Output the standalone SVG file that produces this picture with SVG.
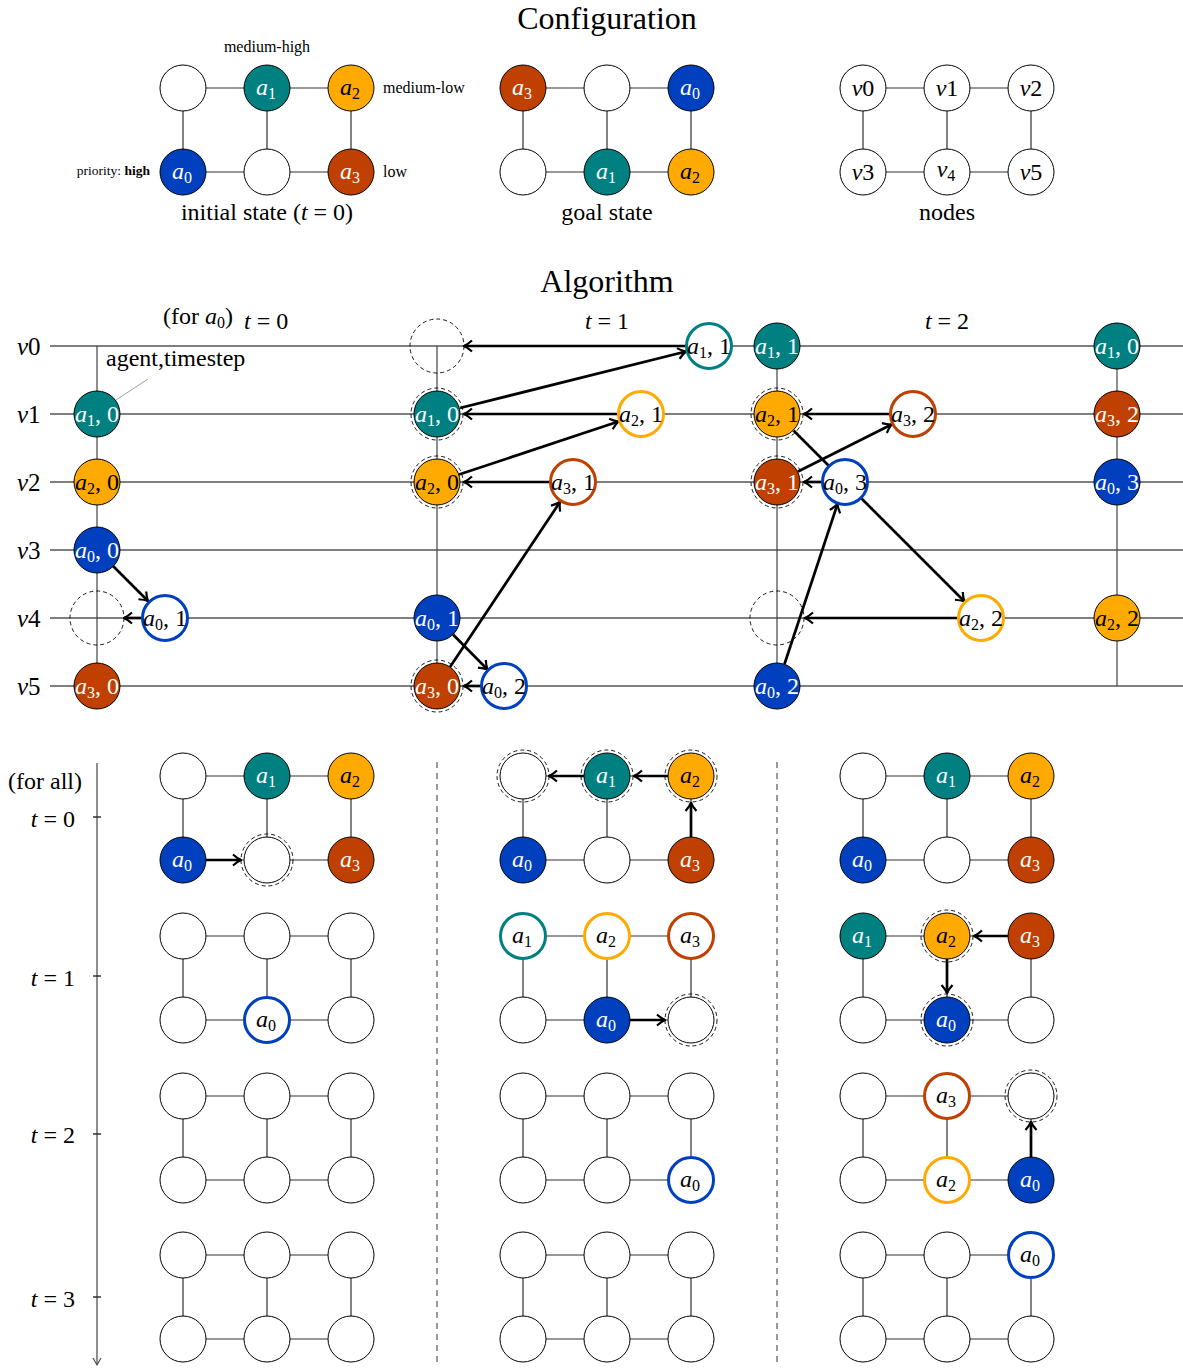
<svg xmlns="http://www.w3.org/2000/svg" width="1183" height="1368" viewBox="0 0 1183 1368">
<defs>
<style>
text{font-family:"Liberation Serif","DejaVu Serif",serif;fill:#000}
.ttl{font-size:32px;text-anchor:middle}
.cap{font-size:24px;text-anchor:middle}
.lb{font-size:24px}
.vv{font-size:25px}
.sm{font-size:16px}
.xs{font-size:13.5px}
.m{font-style:italic}
.s{font-size:16px;font-style:normal}
.u{font-style:normal}
.c{text-anchor:middle;font-size:24px;font-style:italic}
.w{fill:#fff}
.ed{stroke:#333;stroke-width:1.2;fill:none}
.hl{stroke:#000;stroke-width:1.2}
.vl{stroke:#444;stroke-width:1.2}
.n{fill:#fff;stroke:#000;stroke-width:1}
.T{fill:#008080;stroke:#000;stroke-width:1}
.O{fill:#FFAA00;stroke:#000;stroke-width:1}
.B{fill:#0040BF;stroke:#000;stroke-width:1}
.R{fill:#BF4000;stroke:#000;stroke-width:1}
.hT{fill:#fff;stroke:#008080;stroke-width:3}
.hO{fill:#fff;stroke:#FFAA00;stroke-width:3}
.hB{fill:#fff;stroke:#0040BF;stroke-width:3}
.hR{fill:#fff;stroke:#BF4000;stroke-width:3}
.rg{fill:none;stroke:#000;stroke-width:0.9;stroke-dasharray:4 3}
.ar{stroke:#000;stroke-width:2.7;fill:none;marker-end:url(#ah)}
.sep{stroke:#333;stroke-width:1;stroke-dasharray:6 5}
</style>
<marker id="ah" viewBox="0 0 12 14" refX="11" refY="7" markerWidth="12" markerHeight="14" markerUnits="userSpaceOnUse" orient="auto"><path d="M3,1.5 Q7.5,5.5 11,7 Q7.5,8.5 3,12.5" fill="none" stroke="#000" stroke-width="2.2"/></marker>
</defs>
<rect width="1183" height="1368" fill="#fff"/>

<!-- titles and labels -->
<g id="labels">
<text class="ttl" x="607" y="29">Configuration</text>
<text class="sm" x="267" y="52" text-anchor="middle">medium-high</text>
<text class="sm" x="383" y="93">medium-low</text>
<text class="sm" x="383" y="177">low</text>
<text class="xs" x="150" y="175" text-anchor="end">priority: <tspan font-weight="bold">high</tspan></text>
<text class="cap" x="267" y="220">initial state (<tspan class="m">t</tspan> = 0)</text>
<text class="cap" x="607" y="220">goal state</text>
<text class="cap" x="947" y="220">nodes</text>
<text class="ttl" x="607" y="292">Algorithm</text>
<text class="lb" x="163" y="324">(for <tspan class="m">a</tspan><tspan class="s" dy="4">0</tspan><tspan dy="-4">)</tspan></text>
<text class="lb" x="244" y="329"><tspan class="m">t</tspan> = 0</text>
<text class="cap" x="607" y="329"><tspan class="m">t</tspan> = 1</text>
<text class="cap" x="947" y="329"><tspan class="m">t</tspan> = 2</text>
<text class="lb" x="106" y="366">agent,timestep</text>
<line x1="148" y1="379" x2="116" y2="400" stroke="#888" stroke-width="0.8"/>
<text class="vv" x="17" y="355"><tspan class="m">v</tspan>0</text>
<text class="vv" x="17" y="423"><tspan class="m">v</tspan>1</text>
<text class="vv" x="17" y="491"><tspan class="m">v</tspan>2</text>
<text class="vv" x="17" y="559"><tspan class="m">v</tspan>3</text>
<text class="vv" x="17" y="627"><tspan class="m">v</tspan>4</text>
<text class="vv" x="17" y="695"><tspan class="m">v</tspan>5</text>
<text class="lb" x="8" y="789" font-size="23">(for all)</text>
<text class="lb" x="75" y="827" text-anchor="end"><tspan class="m">t</tspan> = 0</text>
<text class="lb" x="75" y="986" text-anchor="end"><tspan class="m">t</tspan> = 1</text>
<text class="lb" x="75" y="1143" text-anchor="end"><tspan class="m">t</tspan> = 2</text>
<text class="lb" x="75" y="1307" text-anchor="end"><tspan class="m">t</tspan> = 3</text>
</g>

<!-- background lines -->
<g id="lines">
<line class="hl" x1="50" y1="346" x2="1183" y2="346"/>
<line class="hl" x1="50" y1="414" x2="1183" y2="414"/>
<line class="hl" x1="50" y1="482" x2="1183" y2="482"/>
<line class="hl" x1="50" y1="550" x2="1183" y2="550"/>
<line class="hl" x1="50" y1="618" x2="1183" y2="618"/>
<line class="hl" x1="50" y1="686" x2="1183" y2="686"/>
<line class="vl" x1="97" y1="346" x2="97" y2="686"/>
<line class="vl" x1="437" y1="346" x2="437" y2="686"/>
<line class="vl" x1="777" y1="346" x2="777" y2="686"/>
<line class="vl" x1="1117" y1="346" x2="1117" y2="686"/>
<line class="vl" x1="97" y1="763" x2="97" y2="1364"/>
<path d="M93,1358 L97,1365 L101,1358" fill="none" stroke="#444" stroke-width="1.1"/>
<path d="M93,817H101M93,976H101M93,1134H101M93,1297H101" stroke="#333" stroke-width="1.4"/>
<line class="sep" x1="437" y1="762" x2="437" y2="1362"/>
<line class="sep" x1="777" y1="762" x2="777" y2="1362"/>
<circle class="rg" cx="97" cy="618" r="27"/>
<circle class="rg" cx="437" cy="346" r="27"/>
<circle class="rg" cx="777" cy="618" r="27"/>
</g>

<!-- connectors -->
<g id="connectors">
<path class="ed" d="M183,88H351M183,172H351M183,88V172M267,88V172M351,88V172"/>
<path class="ed" d="M523,88H691M523,172H691M523,88V172M607,88V172M691,88V172"/>
<path class="ed" d="M863,88H1031M863,172H1031M863,88V172M947,88V172M1031,88V172"/>
<path class="ed" d="M183,776H351M183,860H351M183,776V860M267,776V860M351,776V860"/>
<path class="ed" d="M183,936H351M183,1020H351M183,936V1020M267,936V1020M351,936V1020"/>
<path class="ed" d="M183,1096H351M183,1180H351M183,1096V1180M267,1096V1180M351,1096V1180"/>
<path class="ed" d="M183,1255H351M183,1339H351M183,1255V1339M267,1255V1339M351,1255V1339"/>
<path class="ed" d="M523,776H691M523,860H691M523,776V860M607,776V860M691,776V860"/>
<path class="ed" d="M523,936H691M523,1020H691M523,936V1020M607,936V1020M691,936V1020"/>
<path class="ed" d="M523,1096H691M523,1180H691M523,1096V1180M607,1096V1180M691,1096V1180"/>
<path class="ed" d="M523,1255H691M523,1339H691M523,1255V1339M607,1255V1339M691,1255V1339"/>
<path class="ed" d="M863,776H1031M863,860H1031M863,776V860M947,776V860M1031,776V860"/>
<path class="ed" d="M863,936H1031M863,1020H1031M863,936V1020M947,936V1020M1031,936V1020"/>
<path class="ed" d="M863,1096H1031M863,1180H1031M863,1096V1180M947,1096V1180M1031,1096V1180"/>
<path class="ed" d="M863,1255H1031M863,1339H1031M863,1255V1339M947,1255V1339M1031,1255V1339"/>
<!-- algorithm arrows -->
<line class="ar" x1="113" y1="566" x2="148" y2="601"/>
<line class="ar" x1="142" y1="618" x2="124" y2="618"/>
<line class="ar" x1="686" y1="346" x2="464" y2="346"/>
<line class="ar" x1="460" y1="408" x2="686" y2="351.5"/>
<line class="ar" x1="618" y1="414" x2="464" y2="414"/>
<line class="ar" x1="459" y1="474.5" x2="618.5" y2="421.5"/>
<line class="ar" x1="550" y1="482" x2="464" y2="482"/>
<line class="ar" x1="450" y1="667" x2="560" y2="502"/>
<line class="ar" x1="453" y1="634.5" x2="487.5" y2="669.5"/>
<line class="ar" x1="481" y1="686" x2="464" y2="686"/>
<line class="ar" x1="890" y1="414" x2="804" y2="414"/>
<line class="ar" x1="798" y1="471.5" x2="891.5" y2="424.5"/>
<line class="ar" x1="793.5" y1="430.5" x2="964.5" y2="601.5"/>
<line class="ar" x1="822" y1="482" x2="804" y2="482"/>
<line class="ar" x1="784.5" y1="664" x2="837.5" y2="504"/>
<line class="ar" x1="958" y1="618" x2="805" y2="618"/>
<!-- bottom arrows -->
<line class="ar" x1="206" y1="860" x2="241" y2="860"/>
<line class="ar" x1="584" y1="776" x2="549" y2="776"/>
<line class="ar" x1="668" y1="776" x2="634" y2="776"/>
<line class="ar" x1="691" y1="837" x2="691" y2="803"/>
<line class="ar" x1="630" y1="1020" x2="665" y2="1020"/>
<line class="ar" x1="1008" y1="936" x2="974" y2="936"/>
<line class="ar" x1="947" y1="959" x2="947" y2="993"/>
<line class="ar" x1="1031" y1="1157" x2="1031" y2="1122"/>
</g>

<!-- configuration: initial state -->
<g id="init">
<g id="i0"><circle class="n" cx="183" cy="88" r="23"/></g>
<g id="i1"><circle class="T" cx="267" cy="88" r="23"/><text class="c w" x="266" y="95">a<tspan class="s" dy="4">1</tspan></text></g>
<g id="i2"><circle class="O" cx="351" cy="88" r="23"/><text class="c" x="350" y="95">a<tspan class="s" dy="4">2</tspan></text></g>
<g id="i3"><circle class="B" cx="183" cy="172" r="23"/><text class="c w" x="182" y="179">a<tspan class="s" dy="4">0</tspan></text></g>
<g id="i4"><circle class="n" cx="267" cy="172" r="23"/></g>
<g id="i5"><circle class="R" cx="351" cy="172" r="23"/><text class="c w" x="350" y="179">a<tspan class="s" dy="4">3</tspan></text></g>
</g>
<g id="goal">
<g id="g0"><circle class="R" cx="523" cy="88" r="23"/><text class="c w" x="522" y="95">a<tspan class="s" dy="4">3</tspan></text></g>
<g id="g1"><circle class="n" cx="607" cy="88" r="23"/></g>
<g id="g2"><circle class="B" cx="691" cy="88" r="23"/><text class="c w" x="690" y="95">a<tspan class="s" dy="4">0</tspan></text></g>
<g id="g3"><circle class="n" cx="523" cy="172" r="23"/></g>
<g id="g4"><circle class="T" cx="607" cy="172" r="23"/><text class="c w" x="606" y="179">a<tspan class="s" dy="4">1</tspan></text></g>
<g id="g5"><circle class="O" cx="691" cy="172" r="23"/><text class="c" x="690" y="179">a<tspan class="s" dy="4">2</tspan></text></g>
</g>
<g id="nodes">
<g id="nv0"><circle class="n" cx="863" cy="88" r="23"/><text class="c" x="863" y="96">v<tspan class="u">0</tspan></text></g>
<g id="nv1"><circle class="n" cx="947" cy="88" r="23"/><text class="c" x="947" y="96">v<tspan class="u">1</tspan></text></g>
<g id="nv2"><circle class="n" cx="1031" cy="88" r="23"/><text class="c" x="1031" y="96">v<tspan class="u">2</tspan></text></g>
<g id="nv3"><circle class="n" cx="863" cy="172" r="23"/><text class="c" x="863" y="180">v<tspan class="u">3</tspan></text></g>
<g id="nv4"><circle class="n" cx="947" cy="172" r="23"/><text class="c" x="946" y="177">v<tspan class="s" dy="4">4</tspan></text></g>
<g id="nv5"><circle class="n" cx="1031" cy="172" r="23"/><text class="c" x="1031" y="180">v<tspan class="u">5</tspan></text></g>
</g>

<!-- algorithm nodes -->
<g id="alg">
<g id="c1a10"><circle class="T" cx="97" cy="414" r="23"/><text class="c w" x="97" y="422">a<tspan class="s" dy="4">1</tspan><tspan class="u" dy="-4">, 0</tspan></text></g>
<g id="c1a20"><circle class="O" cx="97" cy="482" r="23"/><text class="c" x="97" y="490">a<tspan class="s" dy="4">2</tspan><tspan class="u" dy="-4">, 0</tspan></text></g>
<g id="c1a00"><circle class="B" cx="97" cy="550" r="23"/><text class="c w" x="97" y="558">a<tspan class="s" dy="4">0</tspan><tspan class="u" dy="-4">, 0</tspan></text></g>
<g id="c1a30"><circle class="R" cx="97" cy="686" r="23"/><text class="c w" x="97" y="694">a<tspan class="s" dy="4">3</tspan><tspan class="u" dy="-4">, 0</tspan></text></g>
<g id="c1a01"><circle class="hB" cx="165" cy="618" r="22.5"/><text class="c" x="165" y="626">a<tspan class="s" dy="4">0</tspan><tspan class="u" dy="-4">, 1</tspan></text></g>

<g id="c2a10"><circle class="rg" cx="437" cy="414" r="26"/><circle class="T" cx="437" cy="414" r="23"/><text class="c w" x="437" y="422">a<tspan class="s" dy="4">1</tspan><tspan class="u" dy="-4">, 0</tspan></text></g>
<g id="c2a20"><circle class="rg" cx="437" cy="482" r="26"/><circle class="O" cx="437" cy="482" r="23"/><text class="c" x="437" y="490">a<tspan class="s" dy="4">2</tspan><tspan class="u" dy="-4">, 0</tspan></text></g>
<g id="c2a01"><circle class="B" cx="437" cy="618" r="23"/><text class="c w" x="437" y="626">a<tspan class="s" dy="4">0</tspan><tspan class="u" dy="-4">, 1</tspan></text></g>
<g id="c2a30"><circle class="rg" cx="437" cy="686" r="26"/><circle class="R" cx="437" cy="686" r="23"/><text class="c w" x="437" y="694">a<tspan class="s" dy="4">3</tspan><tspan class="u" dy="-4">, 0</tspan></text></g>
<g id="c2a11"><circle class="hT" cx="709" cy="346" r="22.5"/><text class="c" x="709" y="354">a<tspan class="s" dy="4">1</tspan><tspan class="u" dy="-4">, 1</tspan></text></g>
<g id="c2a21"><circle class="hO" cx="641" cy="414" r="22.5"/><text class="c" x="641" y="422">a<tspan class="s" dy="4">2</tspan><tspan class="u" dy="-4">, 1</tspan></text></g>
<g id="c2a31"><circle class="hR" cx="573" cy="482" r="22.5"/><text class="c" x="573" y="490">a<tspan class="s" dy="4">3</tspan><tspan class="u" dy="-4">, 1</tspan></text></g>
<g id="c2a02"><circle class="hB" cx="504" cy="686" r="22.5"/><text class="c" x="504" y="694">a<tspan class="s" dy="4">0</tspan><tspan class="u" dy="-4">, 2</tspan></text></g>

<g id="c3a11"><circle class="T" cx="777" cy="346" r="23"/><text class="c w" x="777" y="354">a<tspan class="s" dy="4">1</tspan><tspan class="u" dy="-4">, 1</tspan></text></g>
<g id="c3a21"><circle class="rg" cx="777" cy="414" r="26"/><circle class="O" cx="777" cy="414" r="23"/><text class="c" x="777" y="422">a<tspan class="s" dy="4">2</tspan><tspan class="u" dy="-4">, 1</tspan></text></g>
<g id="c3a31"><circle class="rg" cx="777" cy="482" r="26"/><circle class="R" cx="777" cy="482" r="23"/><text class="c w" x="777" y="490">a<tspan class="s" dy="4">3</tspan><tspan class="u" dy="-4">, 1</tspan></text></g>
<g id="c3a02"><circle class="B" cx="777" cy="686" r="23"/><text class="c w" x="777" y="694">a<tspan class="s" dy="4">0</tspan><tspan class="u" dy="-4">, 2</tspan></text></g>
<g id="c3a32"><circle class="hR" cx="913" cy="414" r="22.5"/><text class="c" x="913" y="422">a<tspan class="s" dy="4">3</tspan><tspan class="u" dy="-4">, 2</tspan></text></g>
<g id="c3a03"><circle class="hB" cx="845" cy="482" r="22.5"/><text class="c" x="845" y="490">a<tspan class="s" dy="4">0</tspan><tspan class="u" dy="-4">, 3</tspan></text></g>
<g id="c3a22"><circle class="hO" cx="981" cy="618" r="22.5"/><text class="c" x="981" y="626">a<tspan class="s" dy="4">2</tspan><tspan class="u" dy="-4">, 2</tspan></text></g>

<g id="c4a10"><circle class="T" cx="1117" cy="346" r="23"/><text class="c w" x="1117" y="354">a<tspan class="s" dy="4">1</tspan><tspan class="u" dy="-4">, 0</tspan></text></g>
<g id="c4a32"><circle class="R" cx="1117" cy="414" r="23"/><text class="c w" x="1117" y="422">a<tspan class="s" dy="4">3</tspan><tspan class="u" dy="-4">, 2</tspan></text></g>
<g id="c4a03"><circle class="B" cx="1117" cy="482" r="23"/><text class="c w" x="1117" y="490">a<tspan class="s" dy="4">0</tspan><tspan class="u" dy="-4">, 3</tspan></text></g>
<g id="c4a22"><circle class="O" cx="1117" cy="618" r="23"/><text class="c" x="1117" y="626">a<tspan class="s" dy="4">2</tspan><tspan class="u" dy="-4">, 2</tspan></text></g>
</g>

<!-- bottom: for all -->
<g id="left">
<g id="L0"><circle class="n" cx="183" cy="776" r="23"/><circle class="T" cx="267" cy="776" r="23"/><text class="c w" x="266" y="783">a<tspan class="s" dy="4">1</tspan></text><circle class="O" cx="351" cy="776" r="23"/><text class="c" x="350" y="783">a<tspan class="s" dy="4">2</tspan></text><circle class="B" cx="183" cy="860" r="23"/><text class="c w" x="182" y="867">a<tspan class="s" dy="4">0</tspan></text><circle class="rg" cx="267" cy="860" r="26"/><circle class="n" cx="267" cy="860" r="23"/><circle class="R" cx="351" cy="860" r="23"/><text class="c w" x="350" y="867">a<tspan class="s" dy="4">3</tspan></text></g>
<g id="L1"><circle class="n" cx="183" cy="936" r="23"/><circle class="n" cx="267" cy="936" r="23"/><circle class="n" cx="351" cy="936" r="23"/><circle class="n" cx="183" cy="1020" r="23"/><circle class="hB" cx="267" cy="1020" r="22.5"/><text class="c" x="266" y="1027">a<tspan class="s" dy="4">0</tspan></text><circle class="n" cx="351" cy="1020" r="23"/></g>
<g id="L2"><circle class="n" cx="183" cy="1096" r="23"/><circle class="n" cx="267" cy="1096" r="23"/><circle class="n" cx="351" cy="1096" r="23"/><circle class="n" cx="183" cy="1180" r="23"/><circle class="n" cx="267" cy="1180" r="23"/><circle class="n" cx="351" cy="1180" r="23"/></g>
<g id="L3"><circle class="n" cx="183" cy="1255" r="23"/><circle class="n" cx="267" cy="1255" r="23"/><circle class="n" cx="351" cy="1255" r="23"/><circle class="n" cx="183" cy="1339" r="23"/><circle class="n" cx="267" cy="1339" r="23"/><circle class="n" cx="351" cy="1339" r="23"/></g>
</g>
<g id="mid">
<g id="M0"><circle class="rg" cx="523" cy="776" r="26"/><circle class="n" cx="523" cy="776" r="23"/><circle class="rg" cx="607" cy="776" r="26"/><circle class="T" cx="607" cy="776" r="23"/><text class="c w" x="606" y="783">a<tspan class="s" dy="4">1</tspan></text><circle class="rg" cx="691" cy="776" r="26"/><circle class="O" cx="691" cy="776" r="23"/><text class="c" x="690" y="783">a<tspan class="s" dy="4">2</tspan></text><circle class="B" cx="523" cy="860" r="23"/><text class="c w" x="522" y="867">a<tspan class="s" dy="4">0</tspan></text><circle class="n" cx="607" cy="860" r="23"/><circle class="R" cx="691" cy="860" r="23"/><text class="c w" x="690" y="867">a<tspan class="s" dy="4">3</tspan></text></g>
<g id="M1"><circle class="hT" cx="523" cy="936" r="22.5"/><text class="c" x="522" y="943">a<tspan class="s" dy="4">1</tspan></text><circle class="hO" cx="607" cy="936" r="22.5"/><text class="c" x="606" y="943">a<tspan class="s" dy="4">2</tspan></text><circle class="hR" cx="691" cy="936" r="22.5"/><text class="c" x="690" y="943">a<tspan class="s" dy="4">3</tspan></text><circle class="n" cx="523" cy="1020" r="23"/><circle class="B" cx="607" cy="1020" r="23"/><text class="c w" x="606" y="1027">a<tspan class="s" dy="4">0</tspan></text><circle class="rg" cx="691" cy="1020" r="26"/><circle class="n" cx="691" cy="1020" r="23"/></g>
<g id="M2"><circle class="n" cx="523" cy="1096" r="23"/><circle class="n" cx="607" cy="1096" r="23"/><circle class="n" cx="691" cy="1096" r="23"/><circle class="n" cx="523" cy="1180" r="23"/><circle class="n" cx="607" cy="1180" r="23"/><circle class="hB" cx="691" cy="1180" r="22.5"/><text class="c" x="690" y="1187">a<tspan class="s" dy="4">0</tspan></text></g>
<g id="M3"><circle class="n" cx="523" cy="1255" r="23"/><circle class="n" cx="607" cy="1255" r="23"/><circle class="n" cx="691" cy="1255" r="23"/><circle class="n" cx="523" cy="1339" r="23"/><circle class="n" cx="607" cy="1339" r="23"/><circle class="n" cx="691" cy="1339" r="23"/></g>
</g>
<g id="right">
<g id="R0"><circle class="n" cx="863" cy="776" r="23"/><circle class="T" cx="947" cy="776" r="23"/><text class="c w" x="946" y="783">a<tspan class="s" dy="4">1</tspan></text><circle class="O" cx="1031" cy="776" r="23"/><text class="c" x="1030" y="783">a<tspan class="s" dy="4">2</tspan></text><circle class="B" cx="863" cy="860" r="23"/><text class="c w" x="862" y="867">a<tspan class="s" dy="4">0</tspan></text><circle class="n" cx="947" cy="860" r="23"/><circle class="R" cx="1031" cy="860" r="23"/><text class="c w" x="1030" y="867">a<tspan class="s" dy="4">3</tspan></text></g>
<g id="R1"><circle class="T" cx="863" cy="936" r="23"/><text class="c w" x="862" y="943">a<tspan class="s" dy="4">1</tspan></text><circle class="rg" cx="947" cy="936" r="26"/><circle class="O" cx="947" cy="936" r="23"/><text class="c" x="946" y="943">a<tspan class="s" dy="4">2</tspan></text><circle class="R" cx="1031" cy="936" r="23"/><text class="c w" x="1030" y="943">a<tspan class="s" dy="4">3</tspan></text><circle class="n" cx="863" cy="1020" r="23"/><circle class="rg" cx="947" cy="1020" r="26"/><circle class="B" cx="947" cy="1020" r="23"/><text class="c w" x="946" y="1027">a<tspan class="s" dy="4">0</tspan></text><circle class="n" cx="1031" cy="1020" r="23"/></g>
<g id="R2"><circle class="n" cx="863" cy="1096" r="23"/><circle class="hR" cx="947" cy="1096" r="22.5"/><text class="c" x="946" y="1103">a<tspan class="s" dy="4">3</tspan></text><circle class="rg" cx="1031" cy="1096" r="26"/><circle class="n" cx="1031" cy="1096" r="23"/><circle class="n" cx="863" cy="1180" r="23"/><circle class="hO" cx="947" cy="1180" r="22.5"/><text class="c" x="946" y="1187">a<tspan class="s" dy="4">2</tspan></text><circle class="B" cx="1031" cy="1180" r="23"/><text class="c w" x="1030" y="1187">a<tspan class="s" dy="4">0</tspan></text></g>
<g id="R3"><circle class="n" cx="863" cy="1255" r="23"/><circle class="n" cx="947" cy="1255" r="23"/><circle class="hB" cx="1031" cy="1255" r="22.5"/><text class="c" x="1030" y="1262">a<tspan class="s" dy="4">0</tspan></text><circle class="n" cx="863" cy="1339" r="23"/><circle class="n" cx="947" cy="1339" r="23"/><circle class="n" cx="1031" cy="1339" r="23"/></g>
</g>
</svg>
